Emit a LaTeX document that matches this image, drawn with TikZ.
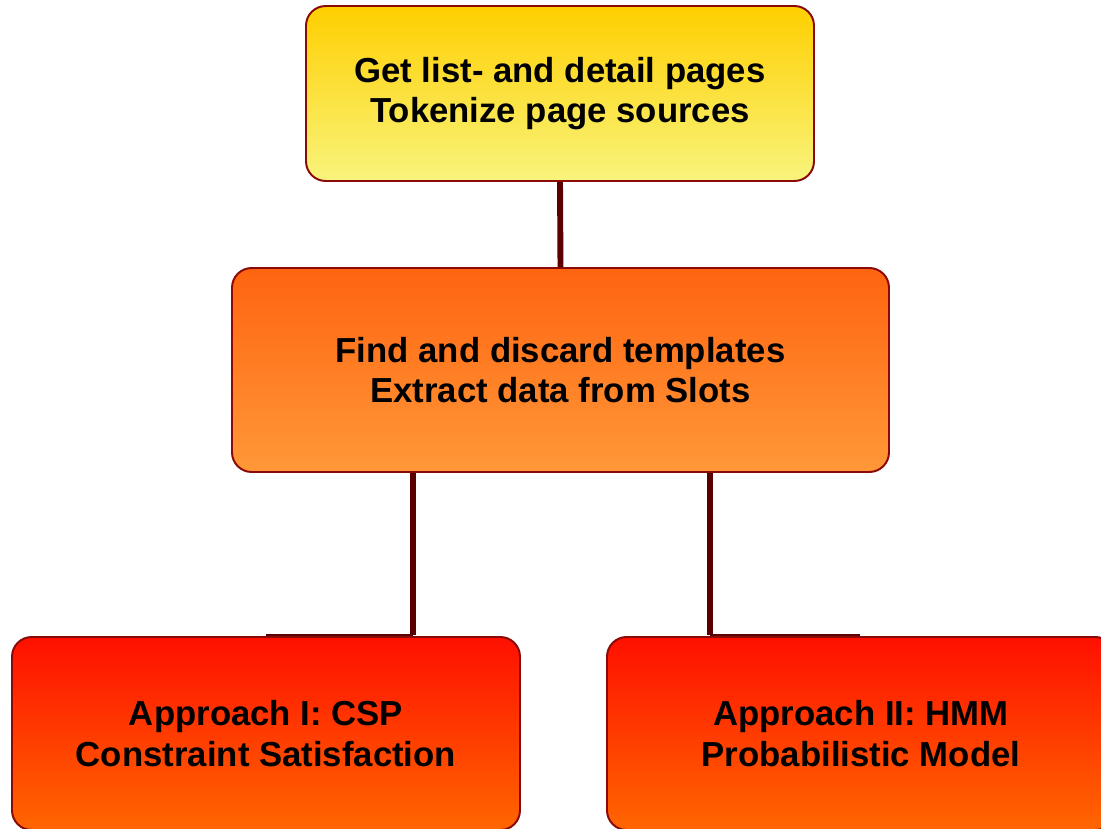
\documentclass[tikz,border=0pt]{standalone}
\usepackage{fontspec}
\setmainfont{Liberation Sans}
\usetikzlibrary{positioning}

\definecolor{boxline}{HTML}{8A0A0A}
\definecolor{linkcol}{HTML}{5A0000}
\definecolor{yeltop}{HTML}{FFCF00}
\definecolor{yelbot}{HTML}{F8F47C}
\definecolor{orgtop}{HTML}{FF6410}
\definecolor{orgbot}{HTML}{FF9838}
\definecolor{redtop}{HTML}{FF1000}
\definecolor{redbot}{HTML}{FF6600}

\tikzset{
  stage/.style={draw=boxline, line width=1.4pt, rounded corners=14pt, align=center,
    font=\fontsize{24.7}{29}\selectfont\bfseries, inner sep=0pt},
  link/.style={draw=linkcol, line width=4.2pt},
  stub/.style={draw=linkcol, line width=2pt}
}

\begin{document}
\begin{tikzpicture}[x=0.025cm, y=-0.025cm]
  \useasboundingbox (0,0) rectangle (1101,829);

  % top stage
  \node[stage, top color=yeltop, bottom color=yelbot, minimum width=508*0.025cm, minimum height=175*0.025cm]
    (fetch) at (560,93.5) {Get list- and detail pages\\Tokenize page sources};

  % middle stage
  \node[stage, top color=orgtop, bottom color=orgbot, minimum width=657*0.025cm, minimum height=204*0.025cm]
    (tmpl) at (560.5,370) {Find and discard templates\\Extract data from Slots};

  % the two approaches
  \node[stage, top color=redtop, bottom color=redbot, minimum width=508*0.025cm, minimum height=193*0.025cm]
    (csp) at (266,733.5) {Approach I: CSP\\Constraint Satisfaction};
  \node[stage, top color=redtop, bottom color=redbot, minimum width=508*0.025cm, minimum height=193*0.025cm]
    (hmm) at (861,733.5) {Approach II: HMM\\Probabilistic Model};

  % connectors
  \coordinate (lj) at (413,635);
  \coordinate (rj) at (710,635);
  \draw[link] (fetch.south) -- (tmpl.north);
  \draw[link] (tmpl.south -| lj) -- (lj);
  \draw[link] (tmpl.south -| rj) -- (rj);
  \draw[stub] (lj) -- (csp.north |- lj);
  \draw[stub] (rj) -- (rj -| 860,0);
\end{tikzpicture}
\end{document}
